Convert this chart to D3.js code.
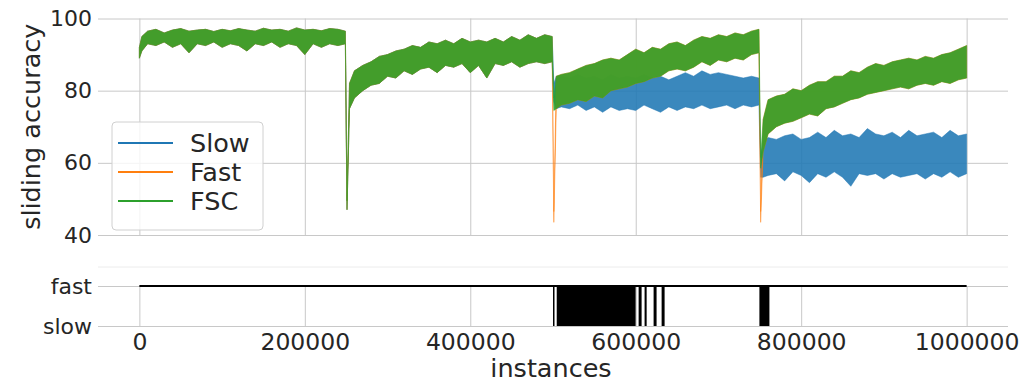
<!DOCTYPE html>
<html>
<head>
<meta charset="utf-8">
<script src="https://cdn.jsdelivr.net/npm/d3@7"></script>
<style>
  body { margin: 0; background: #fff; }
  svg { display: block; font-family: "DejaVu Sans", sans-serif; }
</style>
</head>
<body>
<svg id="chart" width="1024" height="384"></svg>
<script>
// sample positions, in thousands of instances (denser around the three drifts)
const instancesK = [0, 3, 10, 20, 30, 40, 50, 60, 70, 80, 90, 100, 110, 120, 130, 140, 150, 160, 170, 180, 190, 200, 210, 220, 230, 240, 249,
  251, 254,
  260, 270, 280, 290, 300, 310, 320, 330, 340, 350, 360, 370, 380, 390, 400, 410, 420, 430, 440, 450, 460, 470, 480, 490, 499,
  501, 504,
  510, 520, 530, 540, 550, 560, 570, 580, 590, 600, 610, 620, 630, 640, 650, 660, 670, 680, 690, 700, 710, 720, 730, 740, 749,
  751, 754,
  760, 770, 780, 790, 800, 810, 820, 830, 840, 850, 860, 870, 880, 890, 900, 910, 920, 930, 940, 950, 960, 970, 980, 990, 1000];

// first two concepts: all three learners give the same curve (lower / upper edge of the noisy band)
const sharedLo = [89, 91, 93, 92.5, 93.5, 92, 93, 90.5, 93, 92.5, 93.5, 92, 93, 92.5, 91, 93, 92.5, 93.5, 92, 93, 92.5, 90, 93, 92, 93, 92.5, 93,
  47, 75,
  78, 80, 81.5, 82, 84, 83.5, 85.5, 84.5, 86, 86.5, 85, 87, 86.5, 87.5, 85, 87, 83.5, 87.5, 87, 88, 86.5, 87.5, 88, 87.5, 88];
const sharedHi = [92, 95, 96.5, 97, 96, 96.8, 97.2, 96.5, 96.8, 97, 96.4, 97, 96.6, 97.2, 96.8, 96.5, 97.3, 96.8, 97, 96.5, 97.4, 96.8, 97, 96.6, 97.2, 97, 96.5,
  49.5, 82,
  85.5, 87, 88, 89.5, 90, 91, 91.5, 92.5, 92, 93.5, 93, 94, 93, 94.5, 93.5, 94, 93.5, 94.5, 93.5, 95, 94, 95.5, 94.5, 95.5, 95];

// from 501k on
const slowLo = [77, 75,
  75.5, 75, 76, 74.5, 75.5, 74, 75.5, 74.5, 75, 74.5, 76, 75, 74, 75.5, 74.5, 75.5, 75, 76, 75, 75.5, 76, 75, 76, 75.5, 76,
  56, 56,
  56.5, 57, 55, 57.5, 56.5, 54.5, 57, 56, 57.5, 56, 53.5, 57, 56.5, 57, 55.5, 57, 56, 56.5, 57, 55.5, 57, 56, 57.5, 56, 57];
const slowHi = [82, 84,
  84, 83.5, 84.5, 83.5, 84, 83, 84.5, 83.5, 84, 83.5, 84.5, 83.5, 84, 83, 84, 85, 84, 85.5, 84.5, 85, 84.5, 84, 83.5, 84, 83.5,
  62, 66,
  67, 66.5, 67.5, 68, 66.5, 67, 68.5, 67, 69, 67.5, 68, 67, 69.5, 68, 67.5, 68.5, 67, 69, 67.5, 68, 68.5, 67, 69, 67.5, 68];

const fastLo = [43.5, 75,
  76, 76.5, 77.5, 77, 78.5, 78, 80, 80.5, 81, 82, 82.5, 83.5, 84, 85.5, 86, 85.5, 86.5, 88, 87, 88.5, 88, 89, 88.5, 90, 90.5,
  43.5, 63,
  68, 70, 71, 71.5, 72.5, 73.5, 73, 75, 75.5, 76.5, 77.5, 78, 79, 79.5, 80, 80.5, 81, 80.5, 81.5, 82, 81.5, 82.5, 82, 83, 83.5];
const fastHi = [46.5, 84,
  84.5, 85, 86, 87, 87.5, 88.5, 89, 88.5, 90, 91.5, 90.5, 92, 91.5, 93, 93.5, 92.5, 94, 95, 94.5, 95.5, 95, 96, 95.5, 96.5, 97,
  46.5, 72,
  77.5, 78.5, 79, 80.5, 80, 81.5, 82.5, 82.5, 84, 84, 85.5, 85, 86.5, 87.5, 87, 88, 88.5, 89, 88.5, 89.5, 89, 90, 90.5, 91.5, 92.5];

const fscLo = [74.5, 75,
  76, 76.5, 77.5, 77, 78.5, 78, 80, 80.5, 81, 82, 82.5, 83.5, 84, 85.5, 86, 85.5, 86.5, 88, 87, 88.5, 88, 89, 88.5, 90, 90.5,
  58.5, 63,
  68, 70, 71, 71.5, 72.5, 73.5, 73, 75, 75.5, 76.5, 77.5, 78, 79, 79.5, 80, 80.5, 81, 80.5, 81.5, 82, 81.5, 82.5, 82, 83, 83.5];
const fscHi = [78, 84,
  84.5, 85, 86, 87, 87.5, 88.5, 89, 88.5, 90, 91.5, 90.5, 92, 91.5, 93, 93.5, 92.5, 94, 95, 94.5, 95.5, 95, 96, 95.5, 96.5, 97,
  61.5, 72,
  77.5, 78.5, 79, 80.5, 80, 81.5, 82.5, 82.5, 84, 84, 85.5, 85, 86.5, 87.5, 87, 88, 88.5, 89, 88.5, 89.5, 89, 90, 90.5, 91.5, 92.5];

const seriesNames = ['Slow', 'Fast', 'FSC'];
const seriesColors = ['#1f77b4', '#ff7f0e', '#2ca02c'];

// which learner FSC picks: fast everywhere, with spans of switching to slow
const selectionRange = [0, 1000000];
const slowFrom = [500000, 504500, 603500, 610700, 621600, 631300, 749500];
const slowTo   = [501500, 599900, 607100, 613200, 625200, 634900, 761600];

const xTicks = [0, 200000, 400000, 600000, 800000, 1000000];
const accTicks = [40, 60, 80, 100];
const modeLabels = ['slow', 'fast'];

const svg = d3.select('#chart');
const x = d3.scaleLinear().domain([-50000, 1050000]).range([98, 1008]);
const yAcc = d3.scaleLinear().domain([40, 100]).range([235, 18.5]);
const yMode = d3.scaleLinear().domain([0, 1]).range([326, 286]);
const GRID = '#c8c8c8', TXT = '#262626';

function styleGrid(g, size){
  g.select('.domain').remove();
  g.selectAll('.tick line').attr('stroke', GRID).attr('stroke-width', 1);
  g.selectAll('.tick text').attr('fill', TXT).attr('font-size', size || 22).attr('font-family', '"DejaVu Sans", sans-serif');
}

// top panel grid + y ticks
svg.append('g').attr('transform', 'translate(0,235)')
  .call(d3.axisBottom(x).tickValues(xTicks).tickSize(-(235 - 18.5)).tickFormat(''))
  .call(styleGrid);
svg.append('g').attr('transform', 'translate(98,0)')
  .call(d3.axisLeft(yAcc).tickValues(accTicks).tickSize(-(1008 - 98)).tickPadding(6))
  .call(styleGrid);

// series bands
function toPoints(lo, hi){
  const los = sharedLo.concat(lo), his = sharedHi.concat(hi);
  return instancesK.map((k, i) => ({ x: k * 1000, lo: los[i], hi: his[i] }));
}
const data = [toPoints(slowLo, slowHi), toPoints(fastLo, fastHi), toPoints(fscLo, fscHi)];
const band = d3.area().x(d => x(d.x)).y0(d => yAcc(d.lo)).y1(d => yAcc(d.hi));
svg.append('clipPath').attr('id', 'clip-top').append('rect')
  .attr('x', 98).attr('y', 18).attr('width', 910).attr('height', 218);
const plot = svg.append('g').attr('clip-path', 'url(#clip-top)');
data.forEach((pts, i) => {
  plot.append('path').datum(pts).attr('d', band)
    .attr('fill', seriesColors[i]).attr('fill-opacity', 0.88)
    .attr('stroke', seriesColors[i]).attr('stroke-width', 0.8).attr('stroke-opacity', 0.6);
});

// legend
const lg = svg.append('g');
lg.append('rect').attr('x', 112).attr('y', 122).attr('width', 151).attr('height', 108).attr('rx', 4)
  .attr('fill', '#fff').attr('fill-opacity', 0.8).attr('stroke', '#d0d0d0');
seriesNames.forEach((name, i) => {
  const yy = 143 + i * 29;
  lg.append('line').attr('x1', 118).attr('x2', 173).attr('y1', yy).attr('y2', yy)
    .attr('stroke', seriesColors[i]).attr('stroke-width', 2);
  lg.append('text').attr('x', 190).attr('y', yy).attr('dy', '0.36em')
    .attr('font-size', 25.5).attr('fill', TXT).text(name);
});

svg.append('text').attr('transform', `translate(40,${(18.5 + 235) / 2}) rotate(-90)`)
  .attr('text-anchor', 'middle').attr('font-size', 25.5).attr('fill', TXT).text('sliding accuracy');

// bottom panel
svg.append('line').attr('x1', 98).attr('x2', 1008).attr('y1', 267).attr('y2', 267)
  .attr('stroke', '#ececec');
svg.append('g').attr('transform', 'translate(0,326)')
  .call(d3.axisBottom(x).tickValues(xTicks).tickSize(-40).tickPadding(7.5).tickFormat(d3.format('d')))
  .call(g => styleGrid(g, 23.5));
svg.append('g').attr('transform', 'translate(98,0)')
  .call(d3.axisLeft(yMode).tickValues([0, 1]).tickSize(-(1008 - 98)).tickPadding(6).tickFormat(d => modeLabels[d]))
  .call(styleGrid);

svg.append('path').datum(selectionRange)
  .attr('d', d3.line().x(d => x(d)).y(() => yMode(1)))
  .attr('stroke', '#000').attr('stroke-width', 2).attr('fill', 'none');
svg.selectAll('rect.sw').data(slowFrom.map((f, i) => [f, slowTo[i]])).enter().append('rect')
  .attr('class', 'sw')
  .attr('x', d => x(d[0]))
  .attr('width', d => Math.max(1.5, x(d[1]) - x(d[0])))
  .attr('y', yMode(1)).attr('height', yMode(0) - yMode(1))
  .attr('fill', '#000');

svg.append('text').attr('x', 551).attr('y', 377).attr('text-anchor', 'middle')
  .attr('font-size', 25.5).attr('fill', TXT).text('instances');
</script>
</body>
</html>
